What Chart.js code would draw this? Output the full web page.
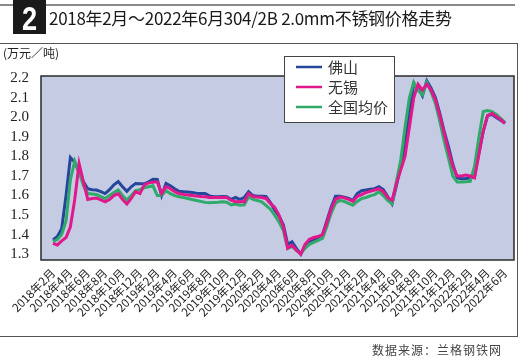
<!DOCTYPE html>
<html>
<head>
<meta charset="utf-8">
<script src="https://cdn.jsdelivr.net/npm/chart.js@4"></script>
<style>
  body { margin: 0; background: #fff; }
  #wrap { position: relative; width: 528px; height: 364px; overflow: hidden; font-family: "Noto Sans CJK SC", sans-serif; }
  #myChart { position: absolute; left: 0; top: 0; }
  .topline { position: absolute; left: 0; top: 4px; width: 515px; height: 2px; background: #8a8a8a; }
  .badge { position: absolute; left: 13px; top: 0; width: 33px; height: 34px; background: #1a1a1a; color: #fff;
           font: bold 34px "Liberation Sans", sans-serif; line-height: 36px; text-align: center; }
  .badge span { display: inline-block; transform: scaleX(0.8); }
  .title { position: absolute; left: 49px; top: 5px; font-size: 17px; color: #1a1a1a; letter-spacing: -0.3px; }
  .frame { position: absolute; left: -2px; top: 43px; width: 518px; height: 292px; border: 1px solid #555; }
  .unit { position: absolute; left: 3px; top: 44px; font-size: 12px; color: #222; }
  .source { position: absolute; left: 372px; top: 341px; font-size: 12px; color: #444; letter-spacing: 1px; }
</style>
</head>
<body>
<div id="wrap">
  <canvas id="myChart" width="528" height="364"></canvas>
  <div class="topline"></div>
  <div class="badge"><span>2</span></div>
  <div class="title">2018年2月～2022年6月304/2B 2.0mm不锈钢价格走势</div>
  <div class="frame"></div>
  <div class="unit">(万元／吨)</div>
  <div class="source">数据来源：兰格钢铁网</div>
</div>
<script>
// tick labels, one every 2 months (data is twice a month)
const tickMonths = [
  "2018年2月", "2018年4月", "2018年6月", "2018年8月", "2018年10月", "2018年12月",
  "2019年2月", "2019年4月", "2019年6月", "2019年8月", "2019年10月", "2019年12月",
  "2020年2月", "2020年4月", "2020年6月", "2020年8月", "2020年10月", "2020年12月",
  "2021年2月", "2021年4月", "2021年6月", "2021年8月", "2021年10月", "2021年12月",
  "2022年2月", "2022年4月", "2022年6月",
];

// prices, 万元/吨, half-month steps
const foshan = [
  1.373, 1.39, 1.43, 1.60, 1.795, 1.77, 1.72, 1.67, 1.635, 1.63,
  1.628, 1.62, 1.61, 1.63, 1.655, 1.672, 1.645, 1.622, 1.645, 1.662,
  1.66, 1.66, 1.67, 1.683, 1.682, 1.60, 1.662, 1.65, 1.635, 1.622,
  1.62, 1.618, 1.615, 1.612, 1.61, 1.61, 1.598, 1.594, 1.594, 1.595,
  1.594, 1.58, 1.59, 1.58, 1.59, 1.62, 1.60, 1.597, 1.597, 1.595,
  1.565, 1.526, 1.495, 1.45, 1.35, 1.363, 1.33, 1.30, 1.34, 1.365,
  1.375, 1.385, 1.40, 1.47, 1.54, 1.597, 1.597, 1.592, 1.585, 1.575,
  1.61, 1.625, 1.628, 1.632, 1.635, 1.645, 1.63, 1.595, 1.558, 1.65,
  1.75, 1.86, 2.02, 2.17, 2.15, 2.11, 2.188, 2.15, 2.10, 2.02,
  1.93, 1.85, 1.76, 1.69, 1.686, 1.687, 1.69, 1.70, 1.82, 1.93,
  2.01, 2.015, 2.00, 1.985, 1.97,
];

const wuxi = [
  1.355, 1.347, 1.368, 1.385, 1.44, 1.58, 1.764, 1.67, 1.58, 1.585,
  1.587, 1.578, 1.568, 1.58, 1.60, 1.61, 1.58, 1.557, 1.585, 1.62,
  1.61, 1.655, 1.665, 1.668, 1.67, 1.61, 1.645, 1.635, 1.62, 1.61,
  1.606, 1.603, 1.60, 1.597, 1.595, 1.594, 1.59, 1.59, 1.59, 1.59,
  1.59, 1.575, 1.568, 1.57, 1.568, 1.61, 1.595, 1.592, 1.59, 1.585,
  1.56, 1.54, 1.50, 1.44, 1.33, 1.345, 1.32, 1.30, 1.35, 1.376,
  1.385, 1.39, 1.40, 1.46, 1.53, 1.58, 1.592, 1.588, 1.58, 1.57,
  1.595, 1.605, 1.615, 1.622, 1.628, 1.635, 1.62, 1.59, 1.575, 1.66,
  1.73, 1.80, 1.95, 2.10, 2.17, 2.14, 2.17, 2.14, 2.09, 2.01,
  1.92, 1.83, 1.75, 1.70, 1.70, 1.705, 1.70, 1.69, 1.81, 1.93,
  2.01, 2.02, 2.005, 1.99, 1.97,
];

const national = [
  1.364, 1.375, 1.40, 1.47, 1.68, 1.777, 1.72, 1.65, 1.61, 1.608,
  1.605, 1.595, 1.585, 1.60, 1.615, 1.628, 1.60, 1.577, 1.60, 1.625,
  1.63, 1.64, 1.645, 1.65, 1.60, 1.60, 1.625, 1.61, 1.60, 1.594,
  1.59, 1.585, 1.58, 1.575, 1.57, 1.565, 1.563, 1.565, 1.566, 1.568,
  1.566, 1.552, 1.556, 1.55, 1.552, 1.594, 1.58, 1.575, 1.568, 1.55,
  1.53, 1.50, 1.465, 1.42, 1.33, 1.34, 1.32, 1.303, 1.33, 1.35,
  1.36, 1.37, 1.38, 1.44, 1.51, 1.56, 1.575, 1.57, 1.56, 1.55,
  1.57, 1.584, 1.59, 1.598, 1.605, 1.62, 1.60, 1.575, 1.558, 1.67,
  1.78, 1.95, 2.10, 2.18, 2.14, 2.115, 2.18, 2.13, 2.07, 1.98,
  1.88, 1.79, 1.70, 1.669, 1.669, 1.67, 1.673, 1.75, 1.90, 2.03,
  2.035, 2.03, 2.015, 1.995, 1.975,
];

const yTicks = [1.3, 1.4, 1.5, 1.6, 1.7, 1.8, 1.9, 2.0, 2.1, 2.2];

// one category per half month, label only on every 4th
const labels = foshan.map((v, i) => (i % 4 === 0 ? tickMonths[i / 4] : ""));

// the plot box is a bit wider than the data range
const padL = 12;
const padR = 9;

// plot background, border and legend box
const plotBox = {
  id: "plotBox",
  beforeDatasetsDraw(chart) {
    const a = chart.chartArea;
    const c = chart.ctx;
    c.save();
    c.fillStyle = "#c6cbe4";
    c.fillRect(a.left - padL, a.top, a.right - a.left + padL + padR, a.bottom - a.top);
    c.restore();
  },
  afterDatasetsDraw(chart) {
    const a = chart.chartArea;
    const c = chart.ctx;
    c.save();
    c.strokeStyle = "#2a2a2a";
    c.lineWidth = 1.5;
    c.strokeRect(a.left - padL, a.top, a.right - a.left + padL + padR, a.bottom - a.top);

    // legend
    const items = chart.data.datasets;
    c.fillStyle = "#fff";
    c.fillRect(284, 56, 110, 66);
    c.strokeStyle = "#444";
    c.lineWidth = 1;
    c.strokeRect(284.5, 56.5, 110, 66);
    c.font = '15px "Noto Sans CJK SC"';
    c.textBaseline = "middle";
    items.forEach((ds, i) => {
      const y = 67 + i * 20;
      c.strokeStyle = ds.borderColor;
      c.lineWidth = 2.5;
      c.beginPath();
      c.moveTo(296, y);
      c.lineTo(322, y);
      c.stroke();
      c.fillStyle = "#333";
      c.fillText(ds.label, 328, y);
    });
    c.restore();
  },
};

const ctx = document.getElementById("myChart").getContext("2d");

new Chart(ctx, {
  type: "line",
  data: {
    labels: labels,
    datasets: [
      { label: "佛山", data: foshan, borderColor: "#24479b", order: 3 },
      { label: "无锡", data: wuxi, borderColor: "#e0188c", order: 1 },
      { label: "全国均价", data: national, borderColor: "#2faa68", order: 2 },
    ],
  },
  options: {
    responsive: false,
    animation: false,
    devicePixelRatio: 1,
    layout: { padding: { left: 0, top: 76, right: 23, bottom: 0 } },
    elements: {
      point: { radius: 0 },
      line: { borderWidth: 3, tension: 0 },
    },
    plugins: {
      legend: { display: false },
      tooltip: { enabled: false },
    },
    scales: {
      x: {
        offset: false,
        afterFit(scale) { scale.height = 104; },
        grid: { display: false, drawTicks: false },
        border: { display: false },
        ticks: {
          autoSkip: false,
          minRotation: 45,
          maxRotation: 45,
          padding: 6,
          color: "#222",
          font: { family: '"Noto Sans CJK SC"', size: 11.5 },
        },
      },
      y: {
        min: 1.27,
        max: 2.212,
        afterFit(scale) { scale.width = 53; },
        afterBuildTicks(scale) { scale.ticks = yTicks.map((v) => ({ value: v })); },
        grid: { display: false, drawTicks: false },
        border: { display: false },
        ticks: {
          autoSkip: false,
          padding: 24,
          color: "#222",
          font: { family: '"Liberation Serif"', size: 15 },
          callback: (v) => v.toFixed(1),
        },
      },
    },
  },
  plugins: [plotBox],
});
</script>
</body>
</html>
